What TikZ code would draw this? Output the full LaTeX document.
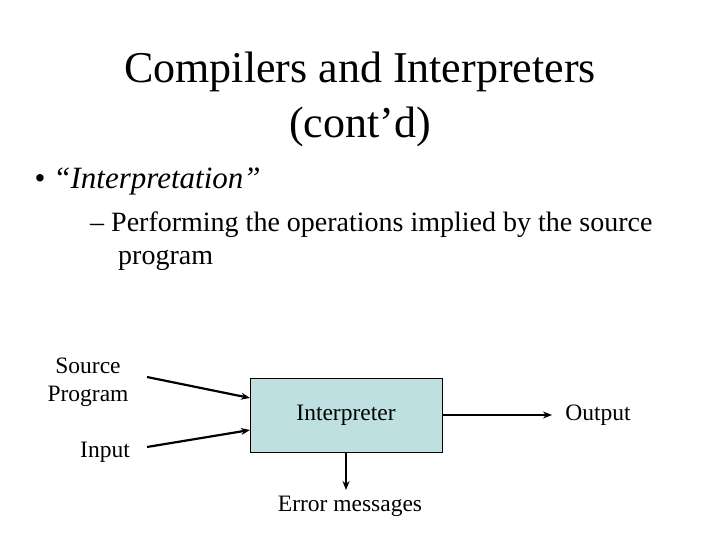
\documentclass[tikz,border=0pt]{standalone}
\usepackage{fontspec}
\setmainfont{Liberation Serif}
\usetikzlibrary{arrows.meta}
\begin{document}
\begin{tikzpicture}[x=1pt,y=-1pt,
  lbl/.style={font=\fontsize{23.5}{28}\selectfont,align=center},
  conn/.style={line width=2.2pt,-{Stealth[length=9pt,width=7pt]}}]
\useasboundingbox (0,0) rectangle (720,540);
\node[font=\fontsize{44}{55}\selectfont,align=center] (title) at (360,99) {Compilers and Interpreters\\(cont’d)};
\node[anchor=west,font=\fontsize{31}{36}\selectfont] (b1) at (31,181) {•\hspace{8pt}\textit{“Interpretation”}};
\node[anchor=north west,font=\fontsize{28}{33}\selectfont,align=left,inner sep=0] (b2) at (90,212) {– Performing the operations implied by the source\\\hspace{28pt}program};
\node[draw=black,fill={rgb,255:red,190;green,224;blue,224},minimum width=192pt,minimum height=74pt,lbl] (interp) at (346,415) {Interpreter};
\node[lbl] (src) at (88,382) {Source\\Program};
\node[lbl] (inp) at (105,452) {Input};
\node[lbl] (out) at (598,415) {Output};
\node[lbl] (err) at (350,506) {Error messages};
\coordinate (s1) at (147,377);
\coordinate (s2) at (147,447);
\draw[conn] (s1) -- (250,398);
\draw[conn] (s2) -- (250,430);
\draw[line width=1.4pt,-{Stealth[length=9pt,width=7pt]}] (interp.east) -- (552,415);
\draw[line width=1.4pt,-{Stealth[length=9pt,width=7pt]}] (interp.south) -- (346,490);
\end{tikzpicture}
\end{document}
